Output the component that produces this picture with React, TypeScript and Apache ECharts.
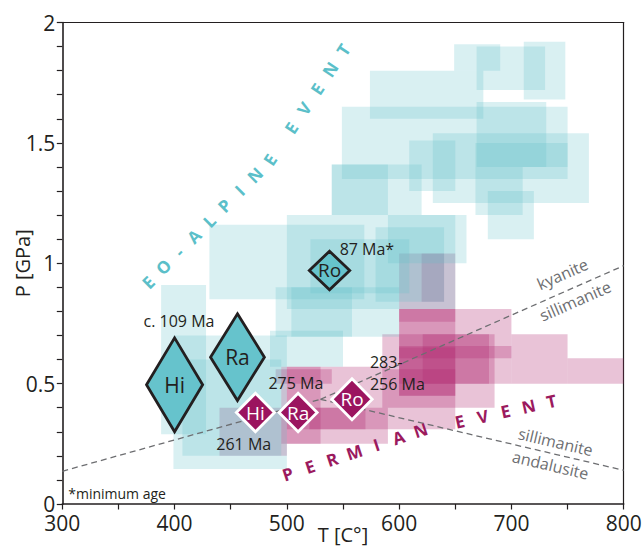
import React, { useEffect, useRef } from "react";
import * as echarts from "echarts";

const FONT = '"Open Sans", "Noto Sans", sans-serif';
const INK = "#231f20";
const GREY = "#6d6e71";
const TEAL_TEXT = "#5bbfc9";
const PLUM_TEXT = "#9b1a5e";

// P–T boxes of the Eo-Alpine event: [Tmin, Tmax, Pmin, Pmax]
const eoAlpineBoxes = [
  [649, 690, 1.8, 1.91],
  [669, 730, 1.72, 1.9],
  [711, 748, 1.68, 1.92],
  [574, 675, 1.6, 1.8],
  [549, 750, 1.35, 1.65],
  [669, 731, 1.4, 1.67],
  [630, 769, 1.25, 1.54],
  [668, 750, 1.4, 1.5],
  [609, 650, 1.3, 1.51],
  [540, 620, 1.2, 1.41],
  [540, 590, 1.2, 1.41],
  [668, 710, 1.2, 1.4],
  [679, 720, 1.1, 1.3],
  [431, 569, 0.85, 1.16],
  [500, 650, 0.81, 1.2],
  [590, 660, 1.0, 1.2],
  [579, 640, 0.84, 1.15],
  [521, 609, 0.875, 1.1],
  [490, 600, 0.695, 0.9],
  [504, 558, 0.695, 0.9],
  [388, 428, 0.29, 0.91],
  [399, 500, 0.145, 0.7],
  [407, 495, 0.2, 0.6],
  [485, 550, 0.57, 0.72],
];

// P–T boxes of the Permian event: [Tmin, Tmax, Pmin, Pmax]
const permianBoxes = [
  [600, 650, 0.45, 1.04],
  [620, 640, 0.84, 1.04],
  [600, 700, 0.5, 0.81],
  [585, 685, 0.4, 0.705],
  [621, 680, 0.5, 0.705],
  [600, 700, 0.605, 0.656],
  [700, 750, 0.5, 0.705],
  [750, 800, 0.5, 0.605],
  [600, 650, 0.757, 0.81],
  [600, 650, 0.45, 0.65],
  [440, 500, 0.2, 0.4],
  [500, 590, 0.25, 0.57],
  [520, 570, 0.31, 0.4],
  [500, 590, 0.31, 0.4],
  [590, 650, 0.31, 0.56],
  [490, 540, 0.5, 0.56],
  [495, 530, 0.25, 0.57],
];

// Sample estimates drawn as diamonds: [Tmin, Tmax, Pmin, Pmax]
const eoAlpineSamples = [
  [375, 425, 0.3, 0.69],
  [432, 480, 0.43, 0.79],
  [520, 556, 0.89, 1.05],
];
const eoAlpineSampleNames = ["Hi", "Ra", "Ro"];
const permianSamples = [
  [455, 489, 0.3, 0.46],
  [493, 527, 0.3, 0.46],
  [540, 576, 0.35, 0.52],
];
const permianSampleNames = ["Hi", "Ra", "Ro"];

// Al2SiO5 phase boundaries
const andalusiteKyanite = [
  [300, 0.136],
  [530, 0.435],
];
const kyaniteSillimanite = [
  [530, 0.435],
  [800, 0.99],
];
const sillimaniteAndalusite = [
  [530, 0.435],
  [800, 0.14],
];

// Age annotations
const ageTexts = ["c. 109 Ma", "87 Ma*", "275 Ma", "261 Ma", "283-", "256 Ma", "*minimum age"];
const agePoints = [
  [403.9, 0.76],
  [547, 1.058],
  [508, 0.504],
  [461.6, 0.248],
  [574, 0.589],
  [574, 0.497],
  [305.3, 0.044],
];
const ageAlign = ["center", "left", "center", "center", "left", "left", "left"];

// Phase field names along the boundaries
const phaseTexts = ["kyanite", "sillimanite", "sillimanite", "andalusite"];
const phasePoints = [
  [745.5, 0.955],
  [756.8, 0.843],
  [739.3, 0.258],
  [734.8, 0.162],
];
const phaseLine = [kyaniteSillimanite, kyaniteSillimanite, sillimaniteAndalusite, sillimaniteAndalusite];

// Event captions: words and the guide path they follow
const eoAlpineWords = ["EO-ALPINE", "EVENT"];
const eoAlpinePath = [
  [376.6, 0.921],
  [484.9, 1.429],
  [550.1, 1.886],
];
const permianWords = ["PERMIAN", "EVENT"];
const permianPath = [
  [500.9, 0.125],
  [619.3, 0.307],
  [735.9, 0.428],
];

const xTicks = { min: 300, max: 800, interval: 100 };
const yTicks = { min: 0, max: 2, interval: 0.5 };

function textStyle(text: string, fill: string, font: string, align = "center") {
  return {
    text,
    fill,
    font,
    align,
    verticalAlign: "middle",
    textAlign: align,
    textVerticalAlign: "middle",
  };
}

function boxSeries(data: number[][], fill: string, z: number) {
  return {
    type: "custom",
    silent: true,
    z,
    data,
    encode: { x: [0, 1], y: [2, 3] },
    renderItem: (_p: any, api: any) => {
      const a = api.coord([api.value(0), api.value(3)]);
      const b = api.coord([api.value(1), api.value(2)]);
      return {
        type: "rect",
        shape: { x: a[0], y: a[1], width: b[0] - a[0], height: b[1] - a[1] },
        style: { fill },
      };
    },
  };
}

function diamondSeries(
  data: number[][],
  names: string[],
  fill: string,
  stroke: string,
  textColor: string,
  sizes: number[],
  z: number
) {
  return {
    type: "custom",
    silent: true,
    z,
    data,
    encode: { x: [0, 1], y: [2, 3] },
    renderItem: (p: any, api: any) => {
      const t0 = api.value(0);
      const t1 = api.value(1);
      const p0 = api.value(2);
      const p1 = api.value(3);
      const tm = (t0 + t1) / 2;
      const pm = (p0 + p1) / 2;
      const pts = [
        api.coord([tm, p1]),
        api.coord([t1, pm]),
        api.coord([tm, p0]),
        api.coord([t0, pm]),
      ];
      const c = api.coord([tm, pm]);
      return {
        type: "group",
        children: [
          {
            type: "polygon",
            shape: { points: pts },
            style: { fill, stroke, lineWidth: 2.8, lineJoin: "miter" },
          },
          {
            type: "text",
            x: c[0],
            y: c[1],
            style: textStyle(names[p.dataIndex], textColor, `${sizes[p.dataIndex]}px ${FONT}`),
          },
        ],
      };
    },
  };
}

function lineSeries(data: number[][]) {
  return {
    type: "line",
    silent: true,
    z: 3,
    data,
    symbol: "none",
    lineStyle: { color: GREY, width: 1.3, type: [6, 4] },
  };
}

function captionSeries(words: string[], path: number[][], pitch: number[], gap: number, color: string) {
  return {
    type: "custom",
    silent: true,
    z: 4,
    data: [[path[0][0], path[0][1]]],
    renderItem: (_p: any, api: any) => {
      const pts = path.map((q) => api.coord(q));
      const lens: number[] = [];
      for (let i = 0; i < pts.length - 1; i++) {
        lens.push(Math.hypot(pts[i + 1][0] - pts[i][0], pts[i + 1][1] - pts[i][1]));
      }
      const at = (s: number) => {
        let i = 0;
        while (i < lens.length - 1 && s > lens[i]) {
          s -= lens[i];
          i++;
        }
        const f = s / lens[i];
        const a = pts[i];
        const b = pts[i + 1];
        return {
          x: a[0] + (b[0] - a[0]) * f,
          y: a[1] + (b[1] - a[1]) * f,
          r: Math.atan2(-(b[1] - a[1]), b[0] - a[0]),
        };
      };
      const children: any[] = [];
      let s = 0;
      let first = true;
      words.forEach((w, wi) => {
        w.split("").forEach((ch, li) => {
          if (!first) s += li === 0 ? gap : pitch[wi];
          first = false;
          const q = at(s);
          children.push({
            type: "text",
            x: q.x,
            y: q.y,
            rotation: q.r,
            style: textStyle(ch, color, `700 17px ${FONT}`),
          });
        });
      });
      return { type: "group", children };
    },
  };
}

export default function App() {
  const ref = useRef<HTMLDivElement>(null);

  useEffect(() => {
    document.body.style.margin = "0";
    if (!ref.current) return;
    const chart = echarts.init(ref.current, undefined, { renderer: "svg" });

    const axisCommon = {
      axisLine: { show: true, lineStyle: { color: INK, width: 1.6 } },
      axisTick: { show: true, length: 5.5, inside: false, lineStyle: { color: INK, width: 1.2 } },
      minorTick: { show: true, length: 5.5, lineStyle: { color: INK, width: 1.2 } },
      splitLine: { show: false },
      minorSplitLine: { show: false },
      axisLabel: { color: INK, fontSize: 21, fontFamily: FONT },
      nameTextStyle: { color: INK, fontSize: 20, fontFamily: FONT },
      nameMoveOverlap: false,
    };

    chart.setOption({
      animation: false,
      backgroundColor: "#ffffff",
      textStyle: { fontFamily: FONT },
      grid: {
        left: 62.3,
        right: 19.3,
        top: 22.5,
        bottom: 43,
        containLabel: false,
        outerBoundsMode: "none",
        show: false,
      },
      xAxis: [
        {
          type: "value",
          ...xTicks,
          ...axisCommon,
          minorTick: { ...axisCommon.minorTick, splitNumber: 2 },
          axisLabel: { ...axisCommon.axisLabel, margin: 8 },
          name: "T [C°]",
          nameLocation: "middle",
          nameGap: 20,
        },
        {
          type: "value",
          position: "top",
          ...xTicks,
          axisLine: { show: true, onZero: false, lineStyle: { color: INK, width: 1.2 } },
          axisTick: { show: false },
          axisLabel: { show: false },
          splitLine: { show: false },
        },
      ],
      yAxis: [
        {
          type: "value",
          ...yTicks,
          ...axisCommon,
          minorTick: { ...axisCommon.minorTick, splitNumber: 5 },
          axisLabel: { ...axisCommon.axisLabel, margin: 7 },
          name: "P [GPa]",
          nameLocation: "middle",
          nameRotate: 90,
          nameGap: 30,
        },
        {
          type: "value",
          position: "right",
          ...yTicks,
          axisLine: { show: true, onZero: false, lineStyle: { color: INK, width: 1.2 } },
          axisTick: { show: false },
          axisLabel: { show: false },
          splitLine: { show: false },
        },
      ],
      series: [
        boxSeries(permianBoxes, "rgba(176,38,110,0.28)", 1),
        boxSeries(eoAlpineBoxes, "rgba(96,192,202,0.24)", 2),
        lineSeries(andalusiteKyanite),
        lineSeries(kyaniteSillimanite),
        lineSeries(sillimaniteAndalusite),
        {
          type: "custom",
          silent: true,
          z: 4,
          data: agePoints,
          renderItem: (p: any, api: any) => {
            const c = api.coord([api.value(0), api.value(1)]);
            const i = p.dataIndex;
            const size = i === ageTexts.length - 1 ? 14 : 16;
            return {
              type: "text",
              x: c[0],
              y: c[1],
              style: textStyle(ageTexts[i], INK, `${size}px ${FONT}`, ageAlign[i]),
            };
          },
        },
        {
          type: "custom",
          silent: true,
          z: 4,
          data: phasePoints,
          renderItem: (p: any, api: any) => {
            const i = p.dataIndex;
            const c = api.coord([api.value(0), api.value(1)]);
            const ln = phaseLine[i];
            const a = api.coord(ln[0]);
            const b = api.coord(ln[1]);
            return {
              type: "text",
              x: c[0],
              y: c[1],
              rotation: Math.atan2(-(b[1] - a[1]), b[0] - a[0]),
              style: textStyle(phaseTexts[i], GREY, `16px ${FONT}`),
            };
          },
        },
        captionSeries(eoAlpineWords, eoAlpinePath, [21.6, 23.5], 38, TEAL_TEXT),
        captionSeries(permianWords, permianPath, [23.3, 23.5], 40, PLUM_TEXT),
        diamondSeries(eoAlpineSamples, eoAlpineSampleNames, "#66c3cc", INK, INK, [21, 21, 19], 6),
        diamondSeries(permianSamples, permianSampleNames, "#9b145f", "#ffffff", "#ffffff", [19, 19, 19], 7),
      ],
    });

    return () => chart.dispose();
  }, []);

  return (
    <div
      ref={ref}
      style={{ position: "fixed", left: 0, top: 0, width: 643, height: 547 }}
    />
  );
}
